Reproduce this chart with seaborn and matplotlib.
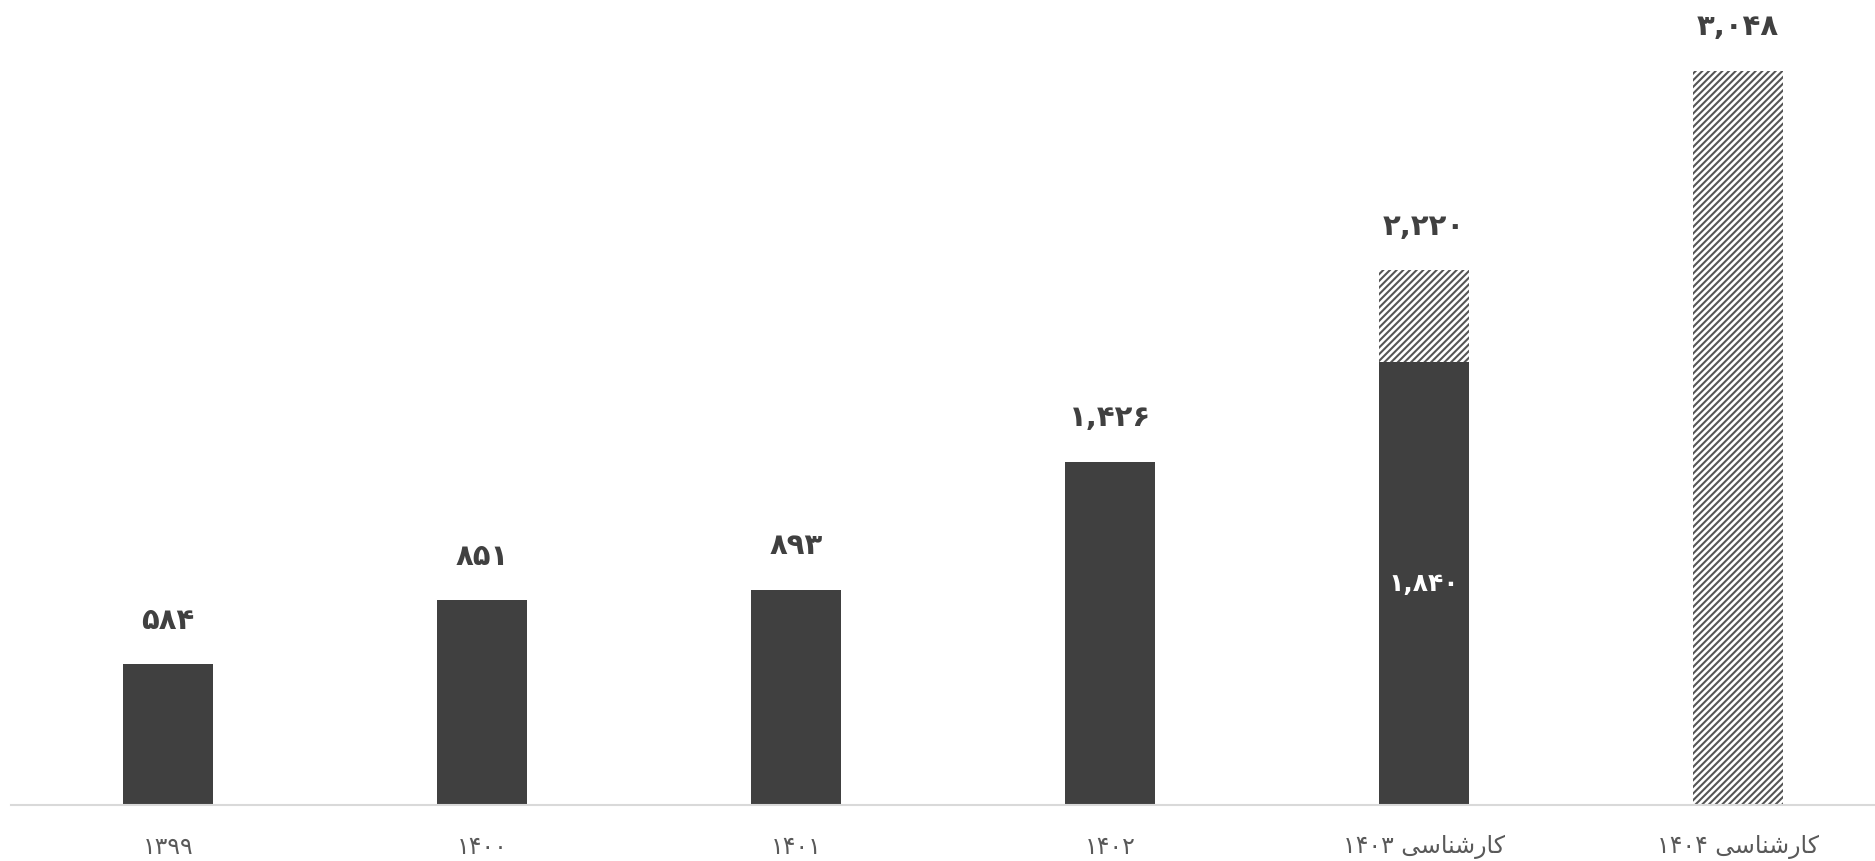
import matplotlib
matplotlib.use("Agg")
import matplotlib.pyplot as plt
import seaborn as sns
import pandas as pd

# ---- data ----
years = ["۱۳۹۹", "۱۴۰۰", "۱۴۰۱", "۱۴۰۲", "۱۴۰۳", "۱۴۰۴"]
prefixes = ["", "", "", "", "کارشناسی", "کارشناسی"]   # "expert estimate" prefix
actual = [584, 851, 893, 1426, 1840, 0]          # solid dark bars
estimate_total = [0, 0, 0, 0, 2220, 3048]         # hatched (estimated) totals
totals = [584, 851, 893, 1426, 2220, 3048]

categories = [(p + " " + y) if p else y for p, y in zip(prefixes, years)]

# ---- simple Persian shaping for display (matplotlib has no bidi/shaping) ----
FORMS = {
    "\u06A9": ("\uFB8E", "\uFB8F", "\uFB90", "\uFB91"),
    "\u0627": ("\uFE8D", "\uFE8E", None, None),
    "\u0631": ("\uFEAD", "\uFEAE", None, None),
    "\u0634": ("\uFEB5", "\uFEB6", "\uFEB7", "\uFEB8"),
    "\u0646": ("\uFEE5", "\uFEE6", "\uFEE7", "\uFEE8"),
    "\u0633": ("\uFEB1", "\uFEB2", "\uFEB3", "\uFEB4"),
    "\u06CC": ("\uFBFC", "\uFBFD", "\uFBFE", "\uFBFF"),
}


def shape_word(w):
    if not any(c in FORMS for c in w):
        return w
    out = []
    for i, c in enumerate(w):
        if c not in FORMS:
            out.append(c)
            continue
        prev = w[i - 1] if i > 0 else None
        nxt = w[i + 1] if i + 1 < len(w) else None
        jp = prev in FORMS and FORMS[prev][2] is not None
        jn = nxt in FORMS and FORMS[c][2] is not None
        iso, fin, ini, med = FORMS[c]
        if jp and jn:
            out.append(med)
        elif jp:
            out.append(fin)
        elif jn:
            out.append(ini)
        else:
            out.append(iso)
    return "".join(reversed(out))


def display(p, y):
    # right-to-left visual order: year on the left, word on the right
    return (y + " " + shape_word(p)) if p else y


PERSIAN = str.maketrans("0123456789", "۰۱۲۳۴۵۶۷۸۹")


def fa_num(v):
    return f"{v:,}".translate(PERSIAN)


sns.set_theme(style="white")
plt.rcParams["font.family"] = ["DejaVu Sans"]
plt.rcParams["hatch.linewidth"] = 1.5

df = pd.DataFrame({"cat": categories, "actual": actual,
                   "est": estimate_total, "total": totals})

fig = plt.figure(figsize=(18.75, 8.62), dpi=100)
ax = fig.add_axes([11 / 1875, 56 / 862, 1884 / 1875, 806 / 862])

dark = "#404040"
sns.barplot(data=df, x="cat", y="est", ax=ax, width=0.287, color="white",
            edgecolor="#555555", linewidth=0, hatch="/////", saturation=1)
sns.barplot(data=df, x="cat", y="actual", ax=ax, width=0.287, color=dark,
            linewidth=0, saturation=1)

ax.set_xlim(-0.5, 5.5)
ax.set_ylim(0, 3347)

hatched_container = ax.containers[0]
dark_container = ax.containers[1]
top_labels_dark = [fa_num(v) if e == 0 else "" for v, e in zip(actual, estimate_total)]
top_labels_hatch = [fa_num(t) if e > 0 else "" for t, e in zip(totals, estimate_total)]
inner_labels = [fa_num(v) if (e > 0 and v > 0) else "" for v, e in zip(actual, estimate_total)]

kw = dict(fontsize=21, fontweight="bold", color=dark, padding=22, clip_on=False)
ax.bar_label(dark_container, labels=top_labels_dark, **kw)
ax.bar_label(hatched_container, labels=top_labels_hatch, **kw)
ax.bar_label(dark_container, labels=inner_labels, label_type="center",
             fontsize=18, fontweight="bold", color="white")

ax.set_xticks(range(len(categories)))
ax.set_xticklabels([display(p, y) for p, y in zip(prefixes, years)],
                   fontsize=17, color="#595959")
ax.tick_params(axis="x", length=0, pad=21)
ax.set_yticks([])
ax.set_xlabel("")
ax.set_ylabel("")
for s in ["top", "right", "left"]:
    ax.spines[s].set_visible(False)
ax.spines["bottom"].set_color("#d9d9d9")
ax.spines["bottom"].set_linewidth(1.5)

fig.savefig("out.png", dpi=100)
